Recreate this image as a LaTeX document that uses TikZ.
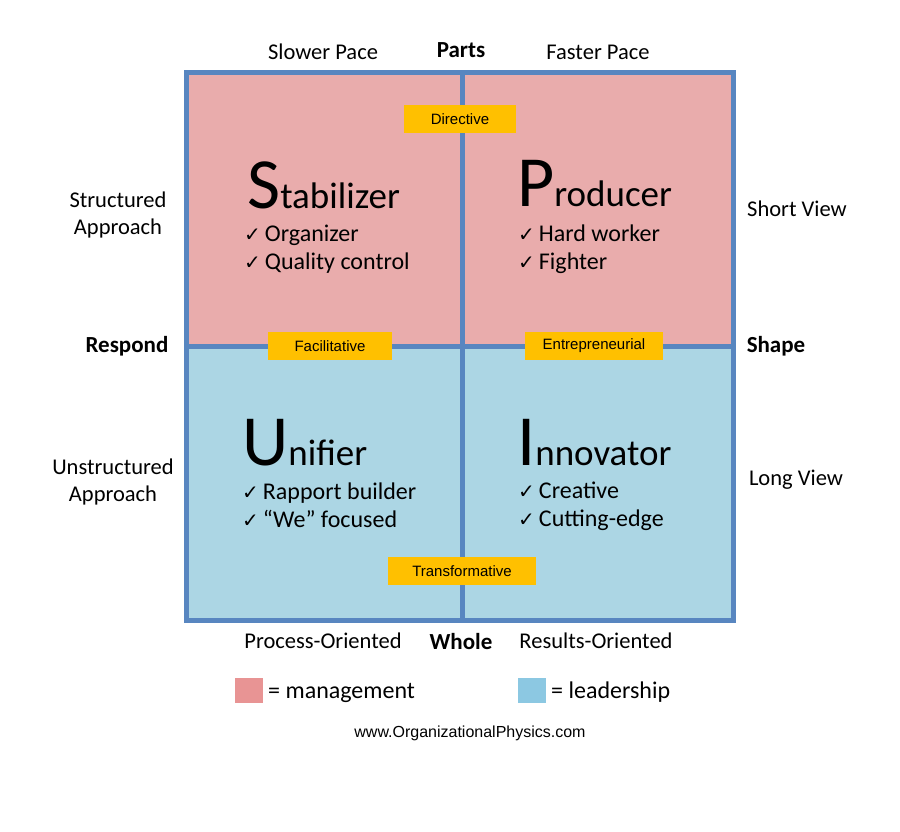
\documentclass[tikz,border=0pt]{standalone}
\usepackage{fontspec}
\setmainfont{Carlito}
\newfontfamily\dejavu{DejaVu Sans}
\newfontfamily\arialf{Liberation Sans}
\definecolor{pinkc}{RGB}{233,172,172}
\definecolor{bluec}{RGB}{172,214,228}
\definecolor{edgec}{RGB}{88,134,192}
\definecolor{goldc}{RGB}{255,192,0}
\definecolor{legp}{RGB}{232,148,148}
\definecolor{legb}{RGB}{140,200,226}
\newcommand{\ck}{{\dejavu\fontsize{20}{20}\selectfont ✓}\,}
\begin{document}
\begin{tikzpicture}[x=1pt,y=-1pt,
  side/.style={font=\fontsize{22.5}{27}\selectfont,align=center},
  bold/.style={font=\fontsize{23}{26}\selectfont\bfseries},
  tag/.style={fill=goldc,font=\arialf\fontsize{15}{18}\selectfont,minimum height=28pt,inner sep=0pt},
  item/.style={anchor=base west,font=\fontsize{24}{26}\selectfont,inner sep=0pt},
  big/.style={anchor=base west,inner sep=0pt}]
\useasboundingbox (0,0) rectangle (900,832);
\fill[white] (0,0) rectangle (900,832);
\fill[pinkc] (186,73) rectangle (733,346);
\fill[bluec] (186,346) rectangle (733,620);
\draw[edgec,line width=5pt] (186,73) rectangle (733,620);
\draw[edgec,line width=5pt] (462,73) -- (462,620) (186,346) -- (733,346);
\node[tag,minimum width=112pt] (dir) at (460,119) {Directive};
\node[tag,minimum width=124pt] (fac) at (330,346) {Facilitative};
\node[tag,minimum width=138pt] (ent) at (594,346) {Entrepreneurial};
\node[tag,minimum width=148pt] (tra) at (462,571) {Transformative};
\node[side] (sp) at (323,52) {Slower Pace};
\node[bold] (pa) at (461,50) {Parts};
\node[side] (fp) at (598,52) {Faster Pace};
\node[side] (sa) at (118,215) {Structured\\Approach};
\node[side] (sv) at (797,209) {Short View};
\node[bold] (re) at (127,346) {Respond};
\node[bold] (sh) at (776,346) {Shape};
\node[side] (ua) at (113,482) {Unstructured\\Approach};
\node[side] (lv) at (796,480) {Long View};
\node[side] (po) at (323,641) {Process-Oriented};
\node[bold] (wh) at (461,642) {Whole};
\node[side] (ro) at (596,641) {Results-Oriented};
\node[big] (s) at (247,208) {\fontsize{72}{72}\selectfont S\fontsize{37}{37}\selectfont tabilizer};
\node[item] (s1) at (244,241) {\ck Organizer};
\node[item] (s2) at (244,269) {\ck Quality control};
\node[big] (p) at (517,207) {\fontsize{72}{72}\selectfont P\fontsize{37}{37}\selectfont roducer};
\node[item] (p1) at (518,241) {\ck Hard worker};
\node[item] (p2) at (518,269) {\ck Fighter};
\node[big] (u) at (242,465) {\fontsize{72}{72}\selectfont U\fontsize{37}{37}\selectfont nifier};
\node[item] (u1) at (242,499) {\ck Rapport builder};
\node[item] (u2) at (242,527) {\ck “We” focused};
\node[big] (i) at (517,465) {\fontsize{72}{72}\selectfont I\fontsize{37}{37}\selectfont nnovator};
\node[item] (i1) at (518,498) {\ck Creative};
\node[item] (i2) at (518,526) {\ck Cutting-edge};
\fill[legp] (235,678) rectangle (263,703);
\node[item] (lm) at (268,698) {= management};
\fill[legb] (518,678) rectangle (546,703);
\node[item] (ll) at (551,698) {= leadership};
\node[font=\arialf\fontsize{16}{18}\selectfont] (url) at (470,733) {www.OrganizationalPhysics.com};
\end{tikzpicture}
\end{document}
